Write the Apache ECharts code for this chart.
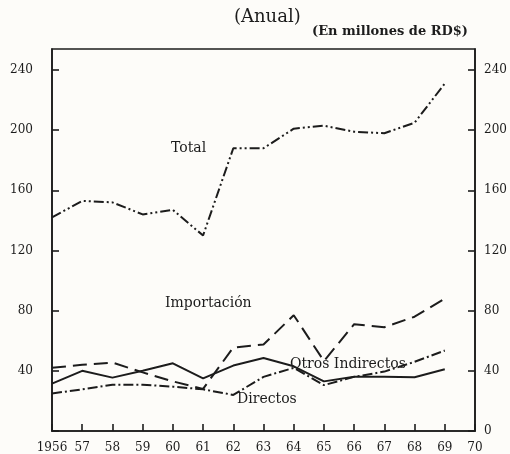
<!DOCTYPE html>
<html>
<head>
<meta charset="utf-8">
<script src="https://cdn.jsdelivr.net/npm/echarts@6/dist/echarts.min.js"></script>
<style>
  html, body { margin: 0; padding: 0; background: #fdfcf9; }
  #chart { width: 510px; height: 454px; }
</style>
</head>
<body>
<div id="chart"></div>
<script>
// Ingresos del gobierno por tipo, 1956-1969 (millones de RD$)
const years = [1956, 1957, 1958, 1959, 1960, 1961, 1962, 1963, 1964, 1965, 1966, 1967, 1968, 1969];
const total = [142, 153, 152, 144, 147, 130, 188, 188, 201, 203, 199, 198, 205, 231];
const importacion = [42, 44, 45.5, 39, 33, 28, 55.5, 57.5, 77, 46.5, 71, 69, 76, 88];
const otrosIndirectos = [31.5, 40, 35.5, 40, 45, 35, 43.5, 48.5, 43, 33, 36, 36, 35.7, 41];
const directos = [25, 27.7, 30.8, 30.8, 29.5, 27.7, 24, 36, 42, 30.5, 36, 39.5, 46, 53.5];
const yTicks = [0, 40, 80, 120, 160, 200, 240];

const ink = '#1c1c1c';
const serif = 'DejaVu Serif';

function pairs(vals) {
  return years.map((y, i) => [y, vals[i]]);
}

function lineSeries(name, vals, dash) {
  return {
    name: name,
    type: 'line',
    data: pairs(vals),
    symbol: 'none',
    smooth: false,
    lineStyle: { color: ink, width: 2, type: dash },
    z: 3
  };
}

const yLabel = (showZero) => ({
  fontFamily: serif, fontSize: 12, color: ink,
  formatter: (v) => (yTicks.indexOf(v) >= 0 && (showZero || v !== 0)) ? String(v) : ''
});

const axisInk = { color: ink, width: 1.6 };

const chart = echarts.init(document.getElementById('chart'));
chart.setOption({
  backgroundColor: '#fdfcf9',
  animation: false,
  grid: {
    left: 52, right: 35, top: 49, bottom: 23,
    show: true, borderColor: ink, borderWidth: 1.6, backgroundColor: 'transparent'
  },
  xAxis: {
    type: 'value', min: 1956, max: 1970, interval: 1,
    axisLine: { show: true, lineStyle: axisInk },
    axisTick: { show: true, inside: true, length: 7, lineStyle: axisInk },
    axisLabel: {
      fontFamily: serif, fontSize: 12, color: ink, margin: 11,
      formatter: (v) => v === 1956 ? '1956' : String(v).slice(2)
    },
    splitLine: { show: false }
  },
  yAxis: [
    {
      type: 'value', min: 0, max: 254, interval: 40, position: 'left',
      axisLine: { show: true, lineStyle: axisInk },
      axisTick: { show: true, inside: true, length: 7, lineStyle: axisInk },
      axisLabel: Object.assign({ margin: 19, showMaxLabel: false }, yLabel(false)),
      splitLine: { show: false }
    },
    {
      type: 'value', min: 0, max: 254, interval: 40, position: 'right',
      axisLine: { show: true, lineStyle: axisInk },
      axisTick: { show: true, inside: true, length: 7, lineStyle: axisInk },
      axisLabel: Object.assign({ margin: 9, showMaxLabel: false }, yLabel(true)),
      splitLine: { show: false }
    }
  ],
  series: [
    lineSeries('Total', total, [10, 3, 2, 3, 2, 3]),
    lineSeries('Importación', importacion, [14, 7]),
    lineSeries('Otros Indirectos', otrosIndirectos, 'solid'),
    lineSeries('Directos', directos, [10, 3, 2, 3])
  ],
  graphic: [
    { type: 'text', left: 234, top: 8,
      style: { text: '(Anual)', font: '18px "DejaVu Serif"', fill: ink } },
    { type: 'text', left: 312, top: 25,
      style: { text: '(En millones de RD$)', font: 'bold 13px "DejaVu Serif"', fill: ink } },
    { type: 'text', left: 171, top: 141, z: 10,
      style: { text: 'Total', font: '14px "DejaVu Serif"', fill: ink } },
    { type: 'text', left: 165, top: 296, z: 10,
      style: { text: 'Importación', font: '14px "DejaVu Serif"', fill: ink } },
    { type: 'text', left: 290, top: 357, z: 10,
      style: { text: 'Otros Indirectos', font: '14px "DejaVu Serif"', fill: ink } },
    { type: 'text', left: 237, top: 392, z: 10,
      style: { text: 'Directos', font: '14px "DejaVu Serif"', fill: ink } }
  ]
});
</script>
</body>
</html>
